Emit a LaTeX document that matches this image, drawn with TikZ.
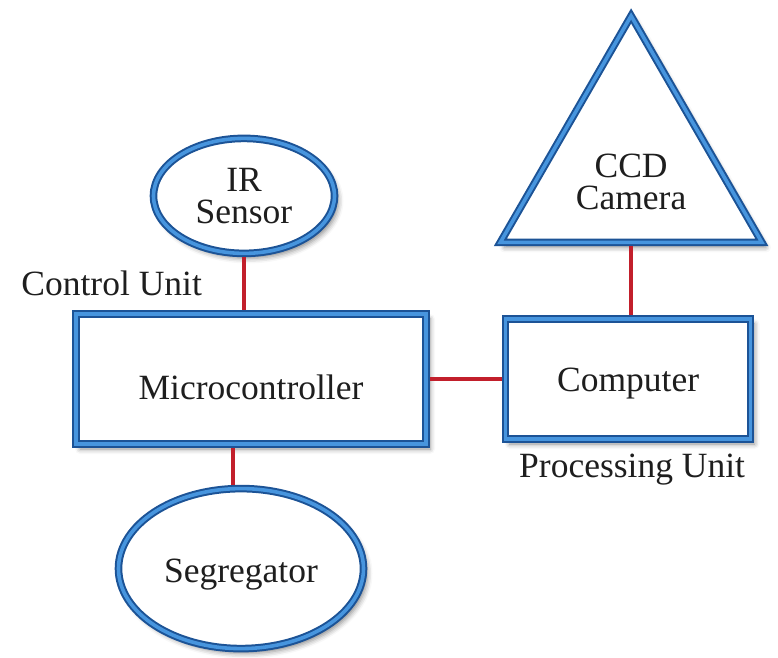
\documentclass[tikz,border=0pt]{standalone}
\usepackage{fontspec}
\setmainfont{Liberation Serif}
\usepackage{xcolor}
\definecolor{boxblue}{HTML}{4795DE}
\definecolor{edgeblue}{HTML}{1C5396}
\definecolor{linkred}{HTML}{C21F2B}
\definecolor{inkgray}{HTML}{1E1E1E}
\usepackage{tikz}
\usetikzlibrary{positioning, shapes.geometric, shadows.blur}

\begin{document}
\begin{tikzpicture}[x=1pt, y=1pt,
    every node/.style={font=\fontsize{35.5}{32}\selectfont, text=inkgray, inner sep=0pt},
    unit/.style={draw=edgeblue, line width=2pt, double=boxblue, double distance=3.6pt,
        fill=white, outer sep=3.8pt, align=center,
        blur shadow={shadow xshift=4pt, shadow yshift=-5pt, shadow blur radius=5pt, shadow opacity=45}},
    block/.style={unit, rectangle},
    disc/.style={unit, ellipse},
    link/.style={draw=linkred, line width=3.5pt}]
    \useasboundingbox (0,0) rectangle (778,657);

    % control side
    \node[block, minimum width=350pt, minimum height=130pt, text height=42pt] (mc) at (251,278) {Microcontroller};
    \node[disc, minimum width=181pt, minimum height=115pt, above=53pt of mc, xshift=-7pt] (ir) {IR\\Sensor};
    \node[disc, minimum width=245pt, minimum height=160pt, below=37pt of mc, xshift=-10pt, text height=36pt] (seg) {Segregator};
    \node[anchor=base west] (cu) at ([xshift=-51pt, yshift=15pt]mc.north west) {Control Unit};

    % processing side
    \node[block, minimum width=245pt, minimum height=120pt, right=72pt of mc, text height=32pt] (comp) {Computer};
    \node[unit, regular polygon, regular polygon sides=3, minimum size=302pt, above=69pt of comp, xshift=3pt,
        label={[yshift=-15pt, align=center]center:CCD\\Camera}] (cam) {};
    \node[below=11pt of comp, xshift=4pt] (pu) {Processing Unit};

    \draw[link] (ir) -- (ir |- mc.north);
    \draw[link] ([xshift=-8pt]seg.north) -- ([xshift=-8pt]seg.north |- mc.south);
    \draw[link] (mc) -- (comp);
    \draw[link] (cam.south) -- (cam.south |- comp.north);
\end{tikzpicture}
\end{document}
